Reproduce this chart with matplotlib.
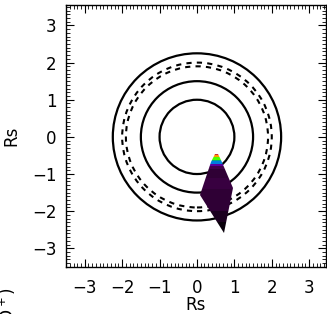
import matplotlib
matplotlib.use('Agg')
import matplotlib.pyplot as plt
import numpy as np
from matplotlib.patches import Circle, Polygon
from matplotlib.ticker import MultipleLocator

# circle radii (Rs)
solid_radii = [1.0, 1.5, 2.25]
dashed_radii = [1.9, 2.0]

# plume outline (x, y in Rs), clockwise from the tip
plume_x = [0.47, 0.55, 0.64, 0.97, 0.72, 0.08, 0.38]
plume_y = [-0.46, -0.45, -0.62, -1.38, -2.60, -1.57, -0.68]

# colour profile down the plume
band_edges = [-0.40, -0.49, -0.55, -0.61, -0.66, -0.72, -0.78, -0.86,
              -1.1, -1.4, -1.7, -2.0, -2.3, -2.65]
band_values = [0.96, 0.80, 0.62, 0.40, 0.26, 0.12, 0.03, 0.022,
               0.025, 0.02, 0.022, 0.012, 0.005]

ticks = [-3, -2, -1, 0, 1, 2, 3]

fig = plt.figure(figsize=(3.27, 3.14), dpi=100)
ax = fig.add_axes([0.202, 0.150, 0.795, 0.834])

for r in solid_radii:
    ax.add_patch(Circle((0, 0), r, fill=False, color='black', lw=1.6))
for r in dashed_radii:
    ax.add_patch(Circle((0, 0), r, fill=False, color='black', lw=1.5,
                        linestyle=(0, (2.5, 2.5))))

xe = [min(plume_x), max(plume_x)]
C = np.array(band_values).reshape(-1, 1)
mesh = ax.pcolormesh(xe, band_edges, C, cmap='nipy_spectral', vmin=0, vmax=1,
                     shading='flat', zorder=3)
poly = Polygon(list(zip(plume_x, plume_y)), closed=True, facecolor='none',
               edgecolor='none')
ax.add_patch(poly)
mesh.set_clip_path(poly)

ax.set_xlim(-3.5, 3.45)
ax.set_ylim(-3.5, 3.55)
ax.set_xticks(ticks)
ax.set_yticks(ticks)
ax.set_xticklabels([str(t).replace('-', '\u2212') for t in ticks])
ax.set_yticklabels([str(t).replace('-', '\u2212') for t in ticks])
ax.xaxis.set_minor_locator(MultipleLocator(0.1))
ax.yaxis.set_minor_locator(MultipleLocator(0.1))
ax.tick_params(which='both', direction='in', top=True, right=True,
               labelsize=12, colors='black')
ax.tick_params(which='major', length=6, width=0.8)
ax.tick_params(axis='x', which='major', pad=9)
ax.tick_params(axis='y', which='major', pad=7)
ax.tick_params(which='minor', length=3, width=0.6)
for s in ax.spines.values():
    s.set_linewidth(1.0)
ax.set_xlabel('Rs', fontsize=12, labelpad=-1)
ax.set_ylabel('Rs', fontsize=12, labelpad=8)

fig.text(0.025, 0.086, 'log n(O$^+$)', rotation=90, ha='center', va='top',
         fontsize=12)

fig.savefig('out.png', dpi=100)
